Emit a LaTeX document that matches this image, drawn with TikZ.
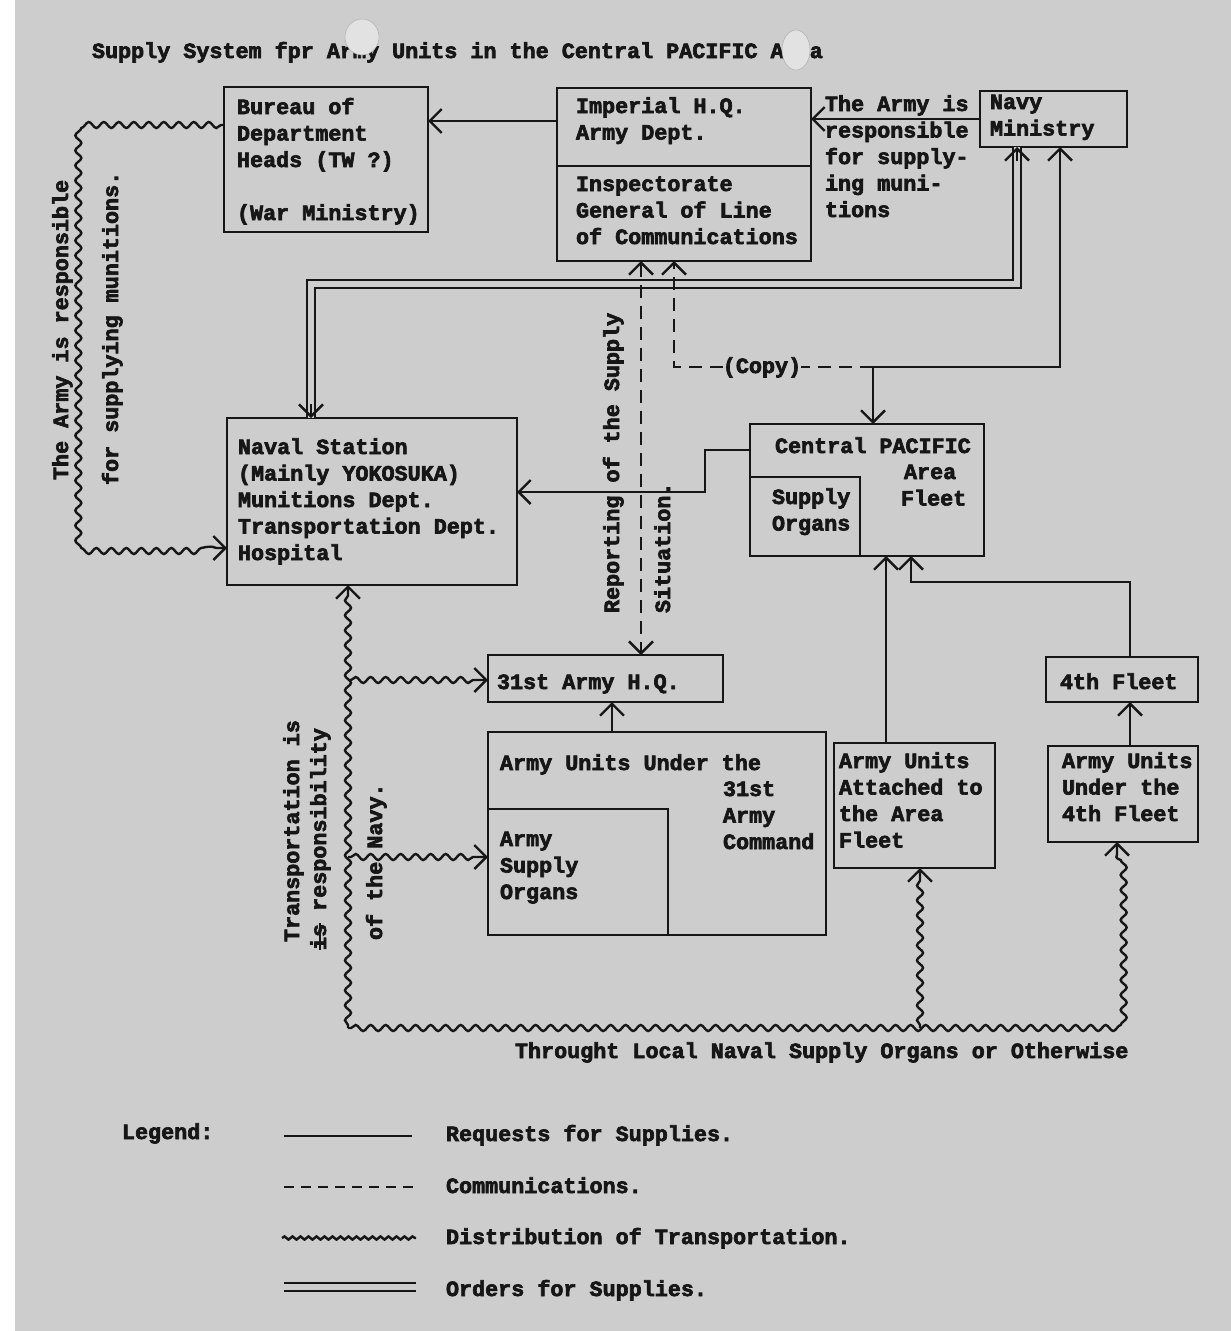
\documentclass[tikz,border=0pt]{standalone}
\usepackage{fontspec}
\setmonofont{Liberation Mono}[BoldFeatures={FakeBold=3}]
\usetikzlibrary{arrows.meta,decorations.pathmorphing}
\definecolor{paper}{RGB}{205,205,205}
\definecolor{holec}{RGB}{226,226,226}
\definecolor{ink}{RGB}{22,22,22}
\newcommand{\tw}{\ttfamily\bfseries\fontsize{21.75}{26.5}\selectfont}
\newcommand{\lns}[1]{\begin{tabular}[t]{@{}l@{}}#1\end{tabular}}
\begin{document}
\begin{tikzpicture}[x=1pt,y=-1pt,
  box/.style={draw=ink, line width=2.8pt, inner sep=0pt, outer sep=0pt, anchor=north west},
  txt/.style={inner sep=0pt, outer sep=0pt, anchor=base west, font=\tw, text=ink},
  vtxt/.style={txt, rotate=90},
  req/.style={draw=ink, line width=2.4pt},
  endtip/.style={-{Straight Barb[length=12pt,width=24pt]}},
  bothtips/.style={{Straight Barb[length=12pt,width=24pt]}-{Straight Barb[length=12pt,width=24pt]}},
  comm/.style={req, dash pattern=on 13pt off 8pt},
  dist/.style={req, decorate, decoration={snake, amplitude=3pt, segment length=15pt, pre length=3pt, post length=10pt}},
  orders/.style={draw=ink, line width=2.2pt, double=paper, double distance=6pt},
]
\useasboundingbox (0,0) rectangle (1231,1331);
\fill[white] (0,0) rectangle (1231,1331);
\fill[paper] (15,0) rectangle (1231,1331);

% title
\node[txt] (title) at (92,58) {Supply System fpr Army Units in the Central PACIFIC Area};
\fill[holec, draw=gray!70] (362,37) ellipse [x radius=17pt, y radius=18pt];
\fill[holec, draw=gray!70] (796,50) ellipse [x radius=14pt, y radius=20pt];

% boxes
\node[box, minimum width=204pt, minimum height=145pt] (bureau) at (224,87) {};
\node[box, minimum width=254pt, minimum height=173pt] (imperial) at (557,88) {};
\node[box, minimum width=147pt, minimum height=56pt] (navy) at (980,91) {};
\node[box, minimum width=290pt, minimum height=167pt] (naval) at (227,418) {};
\node[box, minimum width=234pt, minimum height=132pt] (cpaf) at (750,424) {};
\node[box, minimum width=110pt, minimum height=79pt] (cpso) at (750,477) {};
\node[box, minimum width=235pt, minimum height=47pt] (hq31) at (488,655) {};
\node[box, minimum width=338pt, minimum height=203pt] (au31) at (488,732) {};
\node[box, minimum width=180pt, minimum height=126pt] (aso) at (488,809) {};
\node[box, minimum width=161pt, minimum height=125pt] (auaf) at (834,743) {};
\node[box, minimum width=152pt, minimum height=45pt] (fleet4) at (1046,657) {};
\node[box, minimum width=150pt, minimum height=96pt] (au4) at (1048,746) {};
\draw[draw=ink, line width=2.8pt] (imperial.west |- 0,166) -- (imperial.east |- 0,166);

% box texts
\node[txt] (tbureau) at (237,114) {\lns{Bureau of\\Department\\Heads (TW ?)\\ \\(War Ministry)}};
\node[txt] (timp1) at (576,113) {\lns{Imperial H.Q.\\Army Dept.}};
\node[txt] (timp2) at (576,191) {\lns{Inspectorate\\General of Line\\of Communications}};
\node[txt] (tnavy) at (990,109) {\lns{Navy\\Ministry}};
\node[txt] (tresp) at (825,111) {\lns{The Army is\\responsible\\for supply-\\ing muni-\\tions}};
\node[txt] (tnaval) at (238,454) {\lns{Naval Station\\(Mainly YOKOSUKA)\\Munitions Dept.\\Transportation Dept.\\Hospital}};
\node[txt] (tcp) at (775,453) {Central PACIFIC};
\node[txt] (tarea) at (901,479) {\lns{\hspace{3pt}Area\\Fleet}};
\node[txt] (tcpso) at (772,504) {\lns{Supply\\Organs}};
\node[txt] (thq31) at (497,689) {31st Army H.Q.};
\node[txt] (tau31) at (500,770) {Army Units Under the};
\node[txt] (tau31b) at (723,796) {\lns{31st\\Army\\Command}};
\node[txt] (taso) at (500,846) {\lns{Army\\Supply\\Organs}};
\node[txt] (tauaf) at (839,768) {\lns{Army Units\\Attached to\\the Area\\Fleet}};
\node[txt] (tfleet4) at (1060,689) {4th Fleet};
\node[txt] (tau4) at (1062,768) {\lns{Army Units\\Under the\\4th Fleet}};

% vertical texts
\node[vtxt] (v1) at (68,480) {The Army is responsible};
\node[vtxt] (v2) at (118,485) {for supplying munitions.};
\node[vtxt] (v3) at (619,613) {Reporting of the Supply};
\node[vtxt] (v4) at (670,613) {Situation.};
\node[vtxt] (v5) at (299,942) {Transportation is};
\node[vtxt] (v6) at (326,950) {\rlap{\rule[0.22em]{1.25em}{2.2pt}}is responsibility};
\node[vtxt] (v7) at (382,940) {of the Navy.};

\node[txt] (tbottom) at (515,1058) {Throught Local Naval Supply Organs or Otherwise};

% orders for supplies (double line)
\coordinate (oA) at (1017,284);
\coordinate (oB) at (311,284);
\draw[orders] (navy.south -| oA) -- (oA) -- (oB) -- (naval.north -| oB);
\draw[req, endtip] ([yshift=-14pt]navy.south -| oA) -- (navy.south -| oA);
\draw[req, endtip] ([yshift=14pt]naval.north -| oB) -- (naval.north -| oB);

% requests
\draw[req, endtip] (imperial.west |- 0,121) -- (bureau.east |- 0,121);
\draw[req, endtip] (navy.west |- 0,119) -- (imperial.east |- 0,119);
\coordinate (jC) at (873,367);
\draw[req, bothtips] (cpaf.north -| jC) -- (jC) -- (1060,367) -- (navy.south -| 1060,0);
\draw[req, endtip] (cpaf.west |- 0,450) -| (705,492) -- (naval.east |- 0,492);
\draw[req, endtip] (au31.north -| 612,0) -- (hq31.south -| 612,0);
\draw[req, endtip] (auaf.north -| 886,0) -- (cpaf.south -| 886,0);
\draw[req, endtip] (fleet4.north -| 1130,0) |- (911,582) -- (cpaf.south -| 911,0);
\draw[req, endtip] (au4.north -| 1130,0) -- (fleet4.south -| 1130,0);

% communications
\node[txt, anchor=base] (copy) at (762,373) {(Copy)};
\draw[comm] (jC) -- (copy.east |- jC);
\draw[comm, endtip] (copy.west |- jC) -| (imperial.south -| 674,0);
\draw[comm, bothtips] (imperial.south -| 641,0) -- (hq31.north -| 641,0);

% distribution of transportation
\coordinate (wA) at (348,1028);
\coordinate (wD) at (1117,1028);
\draw[dist, endtip] (bureau.west |- 0,125) -- (88,125) -- (88,548) -- (naval.west |- 0,548);
\draw[dist, endtip] (wA) -- (naval.south -| wA);
\draw[dist, endtip] (wA) -- (wD) -- (au4.south -| wD);
\draw[dist, endtip] (920,1028) -- (auaf.south -| 920,0);
\draw[dist, endtip] (348,680) -- (hq31.west |- 0,680);
\draw[dist, endtip] (348,857) -- (au31.west |- 0,857);

% legend
\node[txt] (leg) at (122,1139) {Legend:};
\node[txt] (l1) at (446,1141) {Requests for Supplies.};
\node[txt] (l2) at (446,1193) {Communications.};
\node[txt] (l3) at (446,1244) {Distribution of Transportation.};
\node[txt] (l4) at (446,1296) {Orders for Supplies.};
\draw[req] (284,1136) -- (412,1136);
\draw[req, dash pattern=on 10pt off 7pt] (284,1187) -- (416,1187);
\draw[req, decorate, decoration={snake, amplitude=1.6pt, segment length=8pt}] (282,1238) -- (416,1238);
\draw[orders] (284,1287) -- (416,1287);
\end{tikzpicture}
\end{document}
